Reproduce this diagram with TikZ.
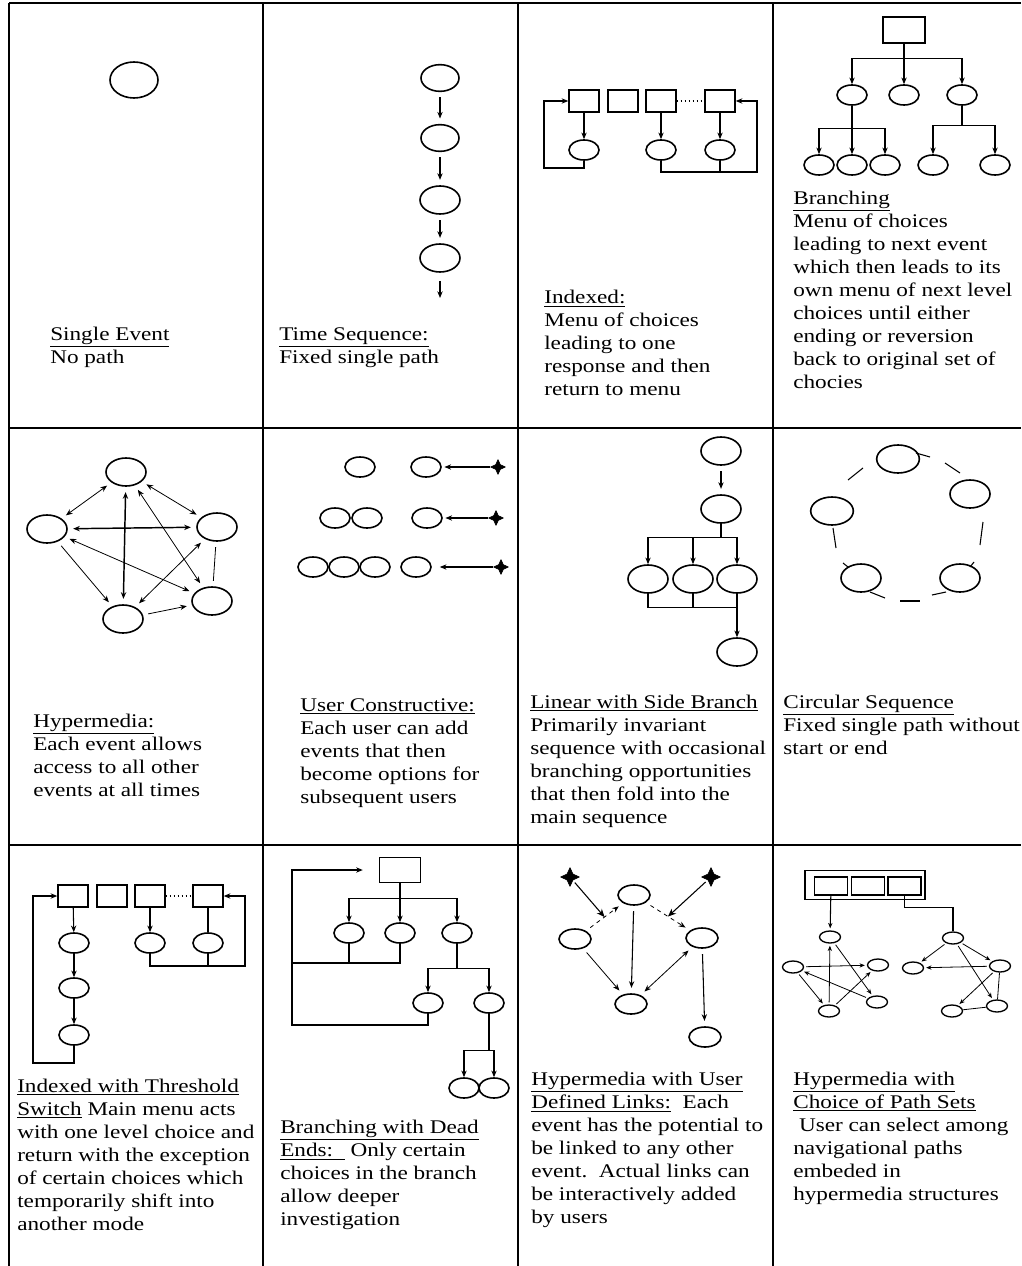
\documentclass[tikz,border=0pt]{standalone}
\usepackage{fontspec}
\setmainfont[FakeStretch=1.2]{Liberation Serif}
\usetikzlibrary{
arrows.meta,
positioning,
shapes.geometric
}
\newcommand\captfont{\fontsize{14.5pt}{17.25pt}\selectfont}
\tikzset{
cellrule/.style={line width=1.5pt, draw=black},
evbig/.style={ellipse, draw, line width=1.2pt, inner sep=0pt, minimum width=36pt, minimum height=27pt},
evts/.style={ellipse, draw, line width=1.2pt, inner sep=0pt, minimum width=28.5pt, minimum height=20pt},
evmed/.style={ellipse, draw, line width=1.2pt, inner sep=0pt, minimum width=30pt, minimum height=21pt},
evsm/.style={ellipse, draw, line width=1.2pt, inner sep=0pt, minimum width=22.5pt, minimum height=15pt},
evxs/.style={ellipse, draw, line width=1pt, inner sep=0pt, minimum width=15.75pt, minimum height=9pt},
menubox/.style={draw, line width=1.1pt, inner sep=0pt, minimum width=22.5pt, minimum height=16.5pt},
seed/.style={star, star points=4, star point ratio=2.2, fill, draw, inner sep=0pt, minimum size=11pt},
evline/.style={line width=0.8pt},
evarrow/.style={-{Stealth[length=5pt, width=4pt]}, line width=0.8pt},
evarrowsm/.style={-{Stealth[length=4pt, width=3.2pt]}, line width=0.6pt, shorten >=1.5pt, shorten <=1.5pt},
evlink/.style={{Stealth[length=5pt, width=4pt]}-{Stealth[length=5pt, width=4pt]}, line width=0.6pt,
  shorten >=4pt, shorten <=4pt},
evgap/.style={shorten >=4pt, shorten <=4pt},
seedarrow/.style={-{Stealth[length=6pt, width=5pt]}, line width=0.8pt, shorten <=2pt},
captext/.style={anchor=north west, align=left, inner sep=0pt, font=\captfont}
}
\begin{document}
\begin{tikzpicture}[x=0.75pt, y=-0.75pt]
\useasboundingbox (0,0) rectangle (1021,1266);
\fill[white] (0,0) rectangle (1021,1266);

% cell rules
\draw[cellrule] (9,3) -- (1021,3);
\draw[cellrule] (9,3) -- (9,1266);
\foreach \cx in {263,518,773}
  \draw[cellrule] (\cx,3) -- (\cx,1266);
\foreach \ry in {428,845}
  \draw[cellrule] (9,\ry) -- (1021,\ry);

% single event
\node[evbig] (se) at (134,80) {};

% time sequence
\node[evts] (ts1) at (440,78) {};
\node[evts] (ts2) at (440,138) {};
\node[evmed] (ts3) at (440,200) {};
\node[evmed] (ts4) at (440,258) {};
\coordinate (tsend) at (440,298);
\draw[evarrow, evgap] (ts1) -- (ts2);
\draw[evarrow, evgap] (ts2) -- (ts3);
\draw[evarrow, evgap] (ts3) -- (ts4);
\draw[evarrow, shorten <=6pt] (ts4) -- (tsend);

% indexed
\node[menubox] (ib1) at (584,101) {};
\node[menubox] (ib2) at (623,101) {};
\node[menubox] (ib3) at (661,101) {};
\node[menubox] (ib4) at (720,101) {};
\node[evsm] (ie1) at (584,150) {};
\node[evsm] (ie2) at (661,150) {};
\node[evsm] (ie3) at (720,150) {};
\draw[evarrow] (ib1) -- (ie1);
\draw[evarrow] (ib3) -- (ie2);
\draw[evarrow] (ib4) -- (ie3);
\draw[dotted, line width=1pt] (ib3.east) -- (ib4.west);
\draw[evarrow] (ie1.south) |- (544,168) |- (ib1.west);
\draw[evarrow] (ie2.south) |- (757,172) |- (ib4.east);
\draw[evline] (ie3.south) -- (ie3.south |- 0,172);

% branching
\node[menubox, minimum width=31.5pt, minimum height=19.5pt] (bx) at (904,30) {};
\node[evsm] (b1) at (852,95) {};
\node[evsm] (b2) at (904,95) {};
\node[evsm] (b3) at (962,95) {};
\node[evsm] (b4) at (819,165) {};
\node[evsm] (b5) at (852,165) {};
\node[evsm] (b6) at (885,165) {};
\node[evsm] (b7) at (933,165) {};
\node[evsm] (b8) at (995,165) {};
\draw[evarrow] (bx.south) -- ++(0,15) -| (b1);
\draw[evarrow] (bx.south) -- ++(0,15) -| (b3);
\draw[evarrow] (bx) -- (b2);
\draw[evarrow] (b1.south) -- ++(0,23) -| (b4);
\draw[evarrow] (b1) -- (b5);
\draw[evarrow] (b1.south) -- ++(0,23) -| (b6);
\draw[evarrow] (b3.south) -- ++(0,20) -| (b7);
\draw[evarrow] (b3.south) -- ++(0,20) -| (b8);

% hypermedia
\node[evmed] (hm1) at (126,472) {};
\node[evmed] (hm2) at (47,529) {};
\node[evmed] (hm3) at (217,527) {};
\node[evmed] (hm4) at (212,601) {};
\node[evmed] (hm5) at (123,619) {};
\draw[evlink] (hm1) -- (hm2);
\draw[evlink] (hm1) -- (hm3);
\draw[evlink, line width=1.1pt] (hm2) -- (hm3);
\draw[evlink, line width=1.1pt] (hm1) -- (hm5);
\draw[evlink] (hm2) -- (hm4);
\draw[evlink] (hm1) -- (hm4);
\draw[evlink] (hm3) -- (hm5);
\draw[evarrow, evgap, line width=0.6pt] (hm2) -- (hm5);
\draw[evarrow, evgap, line width=0.6pt] (hm5) -- (hm4);
\draw[evline, evgap, line width=0.6pt] (hm3) -- (hm4);

% user constructive
\node[evsm] (uc1) at (360,467) {};
\node[evsm] (uc2) at (426,467) {};
\node[seed] (us1) at (498,467) {};
\node[evsm] (uc3) at (335,518) {};
\node[evsm] (uc4) at (367,518) {};
\node[evsm] (uc5) at (427,518) {};
\node[seed] (us2) at (496,518) {};
\node[evsm] (uc6) at (313,567) {};
\node[evsm] (uc7) at (344,567) {};
\node[evsm] (uc8) at (375,567) {};
\node[evsm] (uc9) at (416,567) {};
\node[seed] (us3) at (501,567) {};
\draw[evarrow, shorten >=2pt] (us1) -- (uc2);
\draw[evarrow, shorten >=2pt] (us2) -- (uc5);
\draw[evarrow, shorten >=6pt] (us3) -- (uc9);

% linear with side branch
\node[evmed] (ln1) at (721,451) {};
\node[evmed] (ln2) at (721,509) {};
\node[evmed] (ln3) at (648,579) {};
\node[evmed] (ln4) at (693,579) {};
\node[evmed] (ln5) at (737,579) {};
\node[evmed] (ln6) at (737,652) {};
\draw[evarrow, evgap] (ln1) -- (ln2);
\draw[evarrow] (ln2.south) -- ++(0,14) -| (ln3);
\draw[evarrow] (ln2.south) -- ++(0,14) -| (ln4);
\draw[evarrow] (ln2.south) -- ++(0,14) -| (ln5);
\draw[evline] (ln3.south) -- ++(0,14) -| (ln5.south);
\draw[evline] (ln4.south) -- ++(0,14);
\draw[evarrow] (ln5.south) -- (ln6);

% circular sequence
\node[evmed, minimum width=32pt] (cs1) at (898,459) {};
\node[evmed] (cs2) at (970,494) {};
\node[evmed, minimum width=32pt] (cs3) at (832,511) {};
\node[evmed] (cs4) at (861,578) {};
\node[evmed] (cs5) at (960,578) {};
\draw[evline] (848,480) -- (863,468);
\draw[evline] (916,453) -- (930,457);
\draw[evline] (945,463) -- (960,473);
\draw[evline] (983,522) -- (980,545);
\draw[evline] (974,562) -- (970,567);
\draw[evline] (946,592) -- (932,595);
\draw[evline] (900,601) -- (920,601);
\draw[evline] (870,592) -- (885,598);
\draw[evline] (843,563) -- (848,567);
\draw[evline] (833,528) -- (836,548);

% indexed with threshold switch
\node[menubox] (tb1) at (73,896) {};
\node[menubox] (tb2) at (112,896) {};
\node[menubox] (tb3) at (150,896) {};
\node[menubox] (tb4) at (208,896) {};
\node[evsm] (te1) at (74,943) {};
\node[evsm] (te2) at (74,988) {};
\node[evsm] (te3) at (74,1035) {};
\node[evsm] (te4) at (150,943) {};
\node[evsm] (te5) at (208,943) {};
\draw[evarrow] (tb1) -- (te1);
\draw[evarrow] (te1) -- (te2);
\draw[evarrow] (te2) -- (te3);
\draw[evarrow] (tb3) -- (te4);
\draw[evline] (tb4) -- (te5);
\draw[dotted, line width=1pt] (tb3.east) -- (tb4.west);
\draw[evarrow] (te3.south) |- (33,1063) |- (tb1.west);
\draw[evarrow] (te4.south) |- (245,966) |- (tb4.east);
\draw[evline] (te5.south) -- (te5.south |- 0,966);

% branching with dead ends
\node[menubox, minimum width=30.75pt, minimum height=18.75pt] (db) at (400,870) {};
\node[evsm] (d1) at (349,933) {};
\node[evsm] (d2) at (400,933) {};
\node[evsm] (d3) at (457,933) {};
\node[evsm] (d4) at (428,1003) {};
\node[evsm] (d5) at (489,1003) {};
\node[evsm] (d6) at (464,1088) {};
\node[evsm] (d7) at (494,1088) {};
\draw[evarrow] (db.south) -- ++(0,15) -| (d1);
\draw[evarrow] (db.south) -- ++(0,15) -| (d3);
\draw[evarrow] (db) -- (d2);
\draw[evline] (d2.south) |- (292,963);
\draw[evline] (d1.south) -- (d1.south |- 0,963);
\draw[evarrow, shorten >=12pt] (d4.south) |- (292,1025) |- (db.west);
\draw[evarrow] (d3.south) -- ++(0,25) -| (d4);
\draw[evarrow] (d3.south) -- ++(0,25) -| (d5);
\draw[evarrow] (d5.south) -- ++(0,37) -| (d6);
\draw[evarrow] (d5.south) -- ++(0,37) -| (d7);

% hypermedia with user defined links
\node[evsm, minimum width=24pt] (ul1) at (634,895) {};
\node[evsm, minimum width=24pt] (ul2) at (575,939) {};
\node[evsm, minimum width=24pt] (ul3) at (702,938) {};
\node[evsm, minimum width=24pt] (ul4) at (631,1004) {};
\node[evsm, minimum width=24pt] (ul5) at (705,1037) {};
\node[seed, minimum size=14pt] (ua) at (570,877) {};
\node[seed, minimum size=14pt] (ub) at (711,877) {};
\draw[evarrow, dashed, evgap, line width=0.6pt] (ul2) -- coordinate (ulm1) (ul1);
\draw[evarrow, dashed, evgap, line width=0.6pt] (ul1) -- coordinate (ulm2) (ul3);
\draw[seedarrow] (ua) -- (ulm1);
\draw[seedarrow] (ub) -- (ulm2);
\draw[evarrow, evgap] (ul1) -- (ul4);
\draw[evarrow, evgap, line width=0.6pt] (ul2) -- (ul4);
\draw[evlink] (ul3) -- (ul4);
\draw[evarrow, evgap] (ul3) -- (ul5);

% hypermedia with choice of path sets
\node[draw, line width=1.1pt, inner sep=0pt, minimum width=90pt, minimum height=21.75pt] (pmo) at (865,885) {};
\node[draw, line width=1.1pt, inner sep=0pt, minimum width=24.75pt, minimum height=13.5pt] (pm1) at (831,886) {};
\node[draw, line width=1.1pt, inner sep=0pt, minimum width=24.75pt, minimum height=13.5pt] (pm2) at (868,886) {};
\node[draw, line width=1.1pt, inner sep=0pt, minimum width=24.75pt, minimum height=13.5pt] (pm3) at (904.5,886) {};
\node[evxs] (pl1) at (830,937) {};
\node[evxs] (pl2) at (793,967) {};
\node[evxs] (pl3) at (878,965) {};
\node[evxs] (pl4) at (877,1002) {};
\node[evxs] (pl5) at (829,1011) {};
\node[evxs] (pr1) at (953,938) {};
\node[evxs] (pr2) at (913,968) {};
\node[evxs] (pr3) at (1000,966) {};
\node[evxs] (pr4) at (997,1006) {};
\node[evxs] (pr5) at (952,1011) {};
\draw[evarrowsm, shorten <=0pt, line width=0.8pt] (pm1) -- (pl1);
\draw[evline] (pm3.south) -- ++(0,12) -| (pr1);
\draw[evarrowsm] (pl5) -- (pl1);
\draw[evarrowsm] (pl2) -- (pl3);
\draw[evarrowsm] (pl1) -- (pl4);
\draw[evarrowsm] (pl4) -- (pl2);
\draw[evarrowsm] (pl5) -- (pl3);
\draw[evarrowsm] (pl2) -- (pl5);
\draw[evarrowsm] (pr1) -- (pr2);
\draw[evarrowsm] (pr1) -- (pr3);
\draw[evarrowsm] (pr3) -- (pr2);
\draw[evarrowsm] (pr1) -- (pr4);
\draw[evline, line width=0.6pt] (pr3) -- (pr4);
\draw[evline, line width=0.6pt] (pr4) -- (pr5);
\draw[evarrowsm] (pr3) -- (pr5);

% captions
\node[captext] (t11) at (50,327) {\underline{Single Event}\\No path};
\node[captext] (t12) at (279,327) {\underline{Time Sequence:}\\Fixed single path};
\node[captext] (t13) at (544,290) {\underline{Indexed:}\\Menu of choices\\leading to one\\response and then\\return to menu};
\node[captext] (t14) at (793,191) {\underline{Branching}\\Menu of choices\\leading to next event\\which then leads to its\\own menu of next level\\choices until either\\ending or reversion\\back to original set of\\chocies};
\node[captext] (t21) at (33,714) {\underline{Hypermedia:}\\Each event allows\\access to all other\\events at all times};
\node[captext] (t22) at (300,698) {\underline{User Constructive:}\\Each user can add\\events that then\\become options for\\subsequent users};
\node[captext] (t23) at (530,695) {\underline{Linear with Side Branch}\\Primarily invariant\\sequence with occasional\\branching opportunities\\that then fold into the\\main sequence};
\node[captext] (t24) at (783,695) {\underline{Circular Sequence}\\Fixed single path without\\start or end};
\node[captext] (t31) at (17,1079) {\underline{Indexed with Threshold}\\\underline{Switch} Main menu acts\\with one level choice and\\return with the exception\\of certain choices which\\temporarily shift into\\another mode};
\node[captext] (t32) at (280,1120) {\underline{Branching with Dead}\\\underline{Ends:\ \ }\ Only certain\\choices in the branch\\allow deeper\\investigation};
\node[captext] (t33) at (531,1072) {\underline{Hypermedia with User}\\\underline{Defined Links:}\ \ Each\\event has the potential to\\be linked to any other\\event.\ \ Actual links can\\be interactively added\\by users};
\node[captext] (t34) at (793,1072) {\underline{Hypermedia with}\\\underline{Choice of Path Sets}\\\ User can select among\\navigational paths\\embeded in\\hypermedia structures};
\end{tikzpicture}
\end{document}
